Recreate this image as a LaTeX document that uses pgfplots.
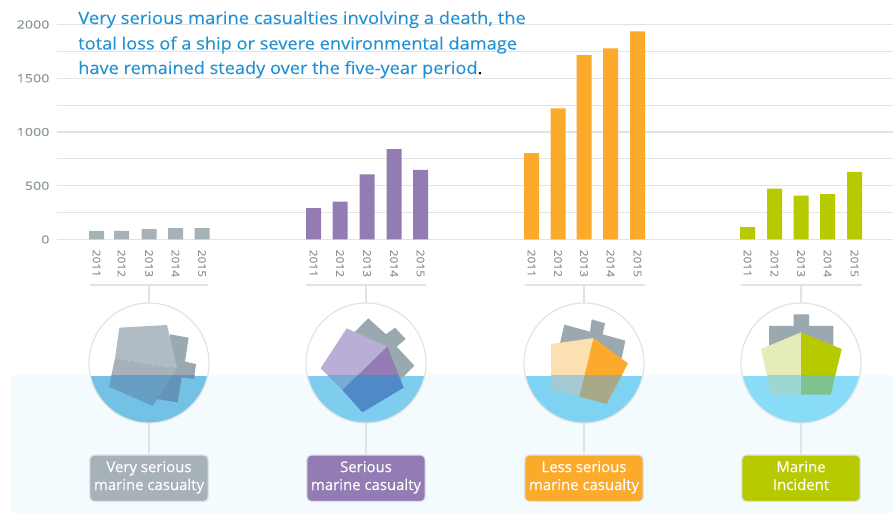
\documentclass[border=0pt]{standalone}
\usepackage{pgfplots}
\pgfplotsset{compat=1.18}
\usepackage{fontspec}
\setmainfont{Open Sans}
\definecolor{gridc}{HTML}{E2E3E4}
\definecolor{tickc}{HTML}{8A959B}
\definecolor{grey}{HTML}{A7B2B8}
\definecolor{purple}{HTML}{937CB3}
\definecolor{orange}{HTML}{FBAA2C}
\definecolor{lime}{HTML}{B7CA00}
\definecolor{sea}{HTML}{F3FBFE}
\definecolor{ink}{HTML}{2092D4}
\definecolor{steel}{HTML}{9AA8B0}

% bracket, stems and caption box of one column: centre, left, right, fill, caption
\newcommand{\frameparts}[5]{%
  \draw[gridc,line width=0.9pt] (#2,285) -- (#3,285);
  \draw[gridc,line width=0.9pt] (#1,285) -- (#1,303);
  \draw[gridc,line width=0.9pt] (#1,423) -- (#1,455);
  \draw[gridc,line width=0.9pt,fill=#4,rounded corners=3.5pt] (#1-59.3,455) rectangle (#1+59.3,501.5);
  \node[text=white,align=center,font=\fontsize{11.2}{13.4}\selectfont\addfontfeature{FakeBold=0.12},inner sep=0] at (#1,477.5) {#5};
}
% circular badge: centre, water colour, plates above the waterline, plates below it.
% Plates are given on a grid three times finer than the page, relative to x offset #5.
\newcommand{\badge}[5]{%
  \begin{scope}
    \clip (#1,363) circle [radius=60];
    \fill[white] (#1-60,303) rectangle (#1+60,376);
    \fill[#2] (#1-60,376) rectangle (#1+60,423);
    \begin{scope}
      \clip (#1-60,303) rectangle (#1+60,376);
      \begin{scope}[shift={(#5,290)},x=0.25pt,y=-0.25pt] #3 \end{scope}
    \end{scope}
    \begin{scope}
      \clip (#1-60,376) rectangle (#1+60,423);
      \begin{scope}[shift={(#5,290)},x=0.25pt,y=-0.25pt] #4 \end{scope}
    \end{scope}
  \end{scope}
  \draw[gridc,line width=0.9pt] (#1,363) circle [radius=60];
}
\definecolor{a1}{HTML}{B1BBC3}\definecolor{a2}{HTML}{A6B2B9}
\definecolor{b0}{HTML}{6394B8}\definecolor{b2}{HTML}{669FC3}
\definecolor{c1}{HTML}{B9AED5}\definecolor{d1}{HTML}{7AA9D6}\definecolor{d2}{HTML}{4F8AC6}
\definecolor{e1}{HTML}{FDE0B2}\definecolor{f1}{HTML}{A5C9D3}\definecolor{f2}{HTML}{A9A98A}
\definecolor{g1}{HTML}{E6ECB8}\definecolor{h1}{HTML}{9ED6D3}\definecolor{h2}{HTML}{7FC28D}
\definecolor{w1}{HTML}{74C1E6}\definecolor{w2}{HTML}{7FCDEE}\definecolor{w3}{HTML}{7FD3F2}\definecolor{w4}{HTML}{89DCF7}

\newcommand{\shipOneBack}[1]{\fill[#1] (510,133)--(566,143)--(555,215)--(588,222)--(582,267)--(545,262)--(533,337)--(470,327)--(500,250)--cycle;}
\newcommand{\shipOneHull}[2]{\fill[#1] (358,113)--(501,105)--(531,235)--(345,205)--cycle;
  \fill[#2] (345,205)--(531,235)--(458,348)--(327,290)--cycle;}
\newcommand{\shipTwoBack}[1]{\fill[#1] (1105,85)--(1158,133)--(1185,113)--(1217,147)--(1190,170)--(1243,227)--(1200,270)--(1120,200)--(1065,125)--cycle;}
\newcommand{\shipTwoHull}[2]{\fill[#1] (1040,115)--(1162,170)--(1027,300)--(962,235)--cycle;
  \fill[#2] (1162,170)--(1211,293)--(1087,367)--(1027,300)--cycle;}
\newcommand{\shipThreeBack}[1]{\fill[#1] (343,104)--(420,125)--(425,88)--(465,100)--(458,133)--(526,152)--(515,205)--(400,200)--(330,160)--cycle;}
\newcommand{\shipThreeHull}[2]{\fill[#1] (303,162)--(431,144)--(388,320)--(303,298)--cycle;
  \fill[#2] (431,144)--(534,220)--(470,342)--(388,320)--cycle;}
\newcommand{\shipFourBack}[1]{\fill[#1] (957,108)--(1031,108)--(1031,73)--(1077,73)--(1077,108)--(1150,108)--(1150,170)--(957,170)--cycle;}
\newcommand{\shipFourHull}[2]{\fill[#1] (933,177)--(1053,127)--(1053,314)--(964,314)--cycle;
  \fill[#2] (1053,127)--(1175,177)--(1142,314)--(1053,314)--cycle;}

\begin{document}
\begin{tikzpicture}[x=0.75pt,y=-0.75pt]
\useasboundingbox (0,0) rectangle (893,513);
\fill[sea] (11,375.5) rectangle (893,513);

\begin{axis}[
  at={(42.75pt,-179.625pt)}, anchor=south west,
  scale only axis, width=627pt, height=161.25pt,
  xmin=57, xmax=893, ymin=0, ymax=2000,
  clip=false,
  ybar, bar shift=0pt, bar width=11.25pt,
  axis line style={draw=none},
  tick style={draw=none},
  xtick={96.5,121.5,149,175.5,202,313.5,340,367,394,420.5,531.5,558,584,610.5,637.5,747.5,774.5,801,827.5,854.5},
  xticklabels={2011,2012,2013,2014,2015,2011,2012,2013,2014,2015,2011,2012,2013,2014,2015,2011,2012,2013,2014,2015},
  xticklabel style={rotate=-90,anchor=west,text=tickc,font=\fontsize{8}{9}\selectfont\addfontfeature{FakeBold=0.1},xscale=1.12,xshift=-0.5pt},
  ytick={0,500,1000,1500,2000},
  yticklabels={0,500,1000,1500,2000},
  minor ytick={250,750,1250,1750},
  yticklabel style={text=tickc,font=\fontsize{8.6}{10}\selectfont\addfontfeature{FakeBold=0.15},xscale=1.25,xshift=-1pt},
  grid=both,
  major grid style={gridc,line width=0.9pt},
  minor grid style={gridc,line width=0.9pt},
  xmajorgrids=false, xminorgrids=false,
  /pgf/number format/assume math mode=true,
]
\addplot[fill=grey,draw=none] coordinates {(96.5,80) (121.5,80) (149,96) (175.5,105) (202,105)};
\addplot[fill=purple,draw=none] coordinates {(313.5,291) (340,353) (367,605) (394,840) (420.5,648)};
\addplot[fill=orange,draw=none] coordinates {(531.5,803) (558,1219) (584,1715) (610.5,1777) (637.5,1935)};
\addplot[fill=lime,draw=none] coordinates {(747.5,115) (774.5,474) (801,409) (827.5,422) (854.5,629)};
\end{axis}

% headline
\tikzset{headline/.style={anchor=base west,inner sep=0,text=ink,font=\fontsize{12.8}{15}\selectfont\addfontfeature{FakeBold=0.12}}}
\node[headline,xscale=1.078] at (78,24) {Very serious marine casualties involving a death, the};
\node[headline,xscale=1.068] at (78,49.5) {total loss of a ship or severe environmental damage};
\node[headline,xscale=1.065] at (78,74) {have remained steady over the five-year period\textcolor{black}{.}};

\frameparts{149}{90}{208}{grey}{\strut Very serious\\\strut marine casualty}
\frameparts{366}{306}{426}{purple}{\strut Serious\\\strut marine casualty}
\frameparts{584}{525}{645}{orange}{\strut Less serious\\\strut marine casualty}
\frameparts{801}{741}{862}{lime}{\strut Marine\\\strut Incident}

\badge{149}{w1}{\shipOneBack{steel}\shipOneHull{a1}{a2}}{\shipOneBack{b0}\shipOneHull{b2}{b2}}{0}
\badge{366}{w2}{\shipTwoBack{steel}\shipTwoHull{c1}{purple}}{\shipTwoBack{steel}\shipTwoHull{d1}{d2}}{0}
\badge{584}{w3}{\shipThreeBack{steel}\shipThreeHull{e1}{orange}}{\shipThreeHull{f1}{f2}}{450}
\badge{801}{w4}{\shipFourBack{steel}\shipFourHull{g1}{lime}}{\shipFourHull{h1}{h2}}{450}
\end{tikzpicture}
\end{document}
